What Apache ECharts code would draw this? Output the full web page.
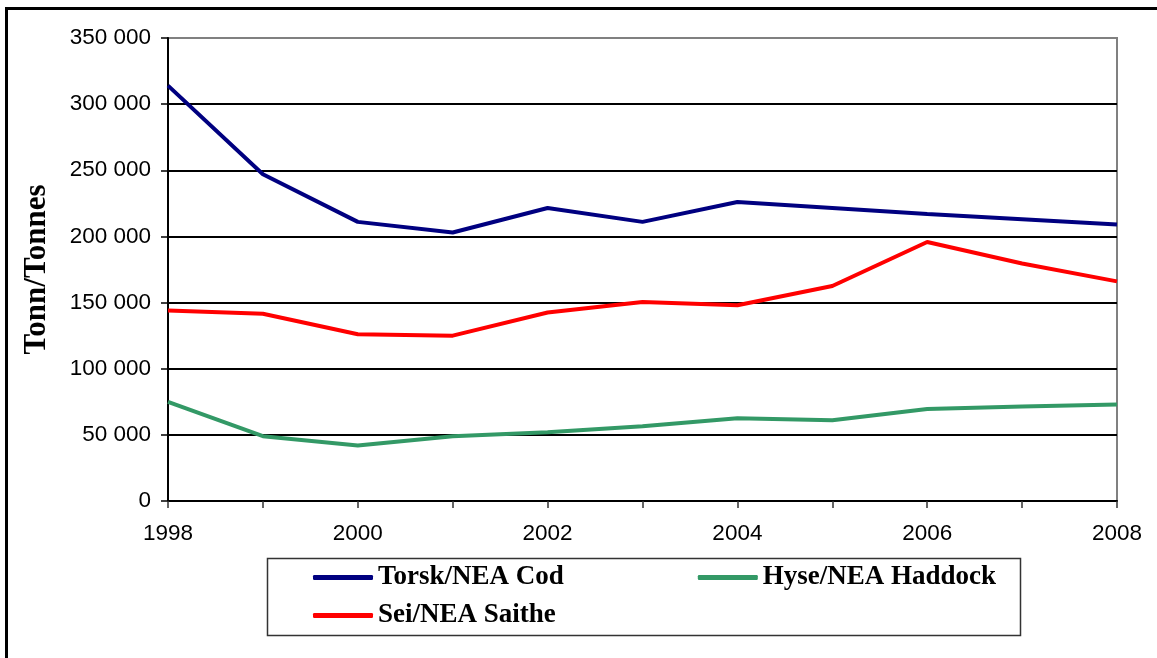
<!DOCTYPE html>
<html>
<head>
<meta charset="utf-8">
<script src="https://cdn.jsdelivr.net/npm/echarts@6/dist/echarts.min.js"></script>
<style>
  html, body { margin: 0; padding: 0; background: #fff; }
  #chart { width: 1157px; height: 658px; }
  .frame { position: absolute; left: 5px; top: 7px; right: -10px; bottom: -10px;
    border-top: 3px solid #000; border-left: 3px solid #000; pointer-events: none; }
</style>
</head>
<body>
<div id="chart"></div>
<div class="frame"></div>
<script>
const years = ['1998', '1999', '2000', '2001', '2002', '2003', '2004', '2005', '2006', '2007', '2008']
const cod = [314000, 247000, 211000, 203000, 221500, 211000, 226000, 221500, 217000, 213000, 209000]
const haddock = [75000, 49000, 42000, 49000, 52000, 56500, 62500, 61000, 69500, 71500, 73000]
const saithe = [144000, 141500, 126000, 125000, 142500, 150500, 148000, 162500, 195800, 179500, 166000]

const chart = echarts.init(document.getElementById('chart'))

const fmt = (v) => String(v).replace(/\B(?=(\d{3})+(?!\d))/g, ' ')
const legendText = { fontFamily: 'Liberation Serif', fontWeight: 'bold', fontSize: 27, color: '#000' }
const legendBase = {
  icon: 'roundRect', itemWidth: 60, itemHeight: 5, itemGap: 134,
  textStyle: legendText, selectedMode: false, padding: 0,
}

chart.setOption({
  animation: false,
  grid: {
    left: 168, right: 40, top: 38, bottom: 157,
    show: true, borderColor: '#808080', borderWidth: 2,
  },
  legend: [
    { ...legendBase, left: 313, top: 564, data: ['Torsk/NEA Cod', 'Hyse/NEA Haddock'] },
    { ...legendBase, left: 313, top: 602, data: ['Sei/NEA Saithe'] },
  ],
  graphic: [{
    type: 'rect', left: 265, top: 556, silent: true,
    shape: { width: 753, height: 77 },
    style: { fill: 'none', stroke: '#333', lineWidth: 1.5 },
  }],
  xAxis: {
    type: 'category', data: years, boundaryGap: false,
    axisLine: { lineStyle: { color: '#000', width: 2 } },
    axisTick: { show: true, interval: 0, length: 7, lineStyle: { color: '#333', width: 1.5 } },
    axisLabel: { interval: 1, margin: 21, fontFamily: 'Liberation Sans', fontSize: 22.5, color: '#000' },
  },
  yAxis: {
    type: 'value', min: 0, max: 350000, interval: 50000,
    name: 'Tonn/Tonnes', nameLocation: 'middle', nameGap: 116,
    nameTextStyle: { fontFamily: 'Liberation Serif', fontWeight: 'bold', fontSize: 31, color: '#000' },
    axisLine: { show: true, lineStyle: { color: '#000', width: 2 } },
    axisTick: { show: true, length: 7, lineStyle: { color: '#000', width: 1.5 } },
    axisLabel: { margin: 17, fontFamily: 'Liberation Sans', fontSize: 22.5, color: '#000', formatter: fmt },
    splitLine: {
      lineStyle: { width: 2, color: ['#000', '#000', '#000', '#000', '#000', '#000', '#000', '#808080'] },
    },
  },
  series: [
    { name: 'Torsk/NEA Cod', type: 'line', data: cod, showSymbol: false,
      color: '#000080', lineStyle: { width: 4, color: '#000080' } },
    { name: 'Hyse/NEA Haddock', type: 'line', data: haddock, showSymbol: false,
      color: '#339966', lineStyle: { width: 4, color: '#339966' } },
    { name: 'Sei/NEA Saithe', type: 'line', data: saithe, showSymbol: false,
      color: '#ff0000', lineStyle: { width: 4, color: '#ff0000' } },
  ],
})
</script>
</body>
</html>
